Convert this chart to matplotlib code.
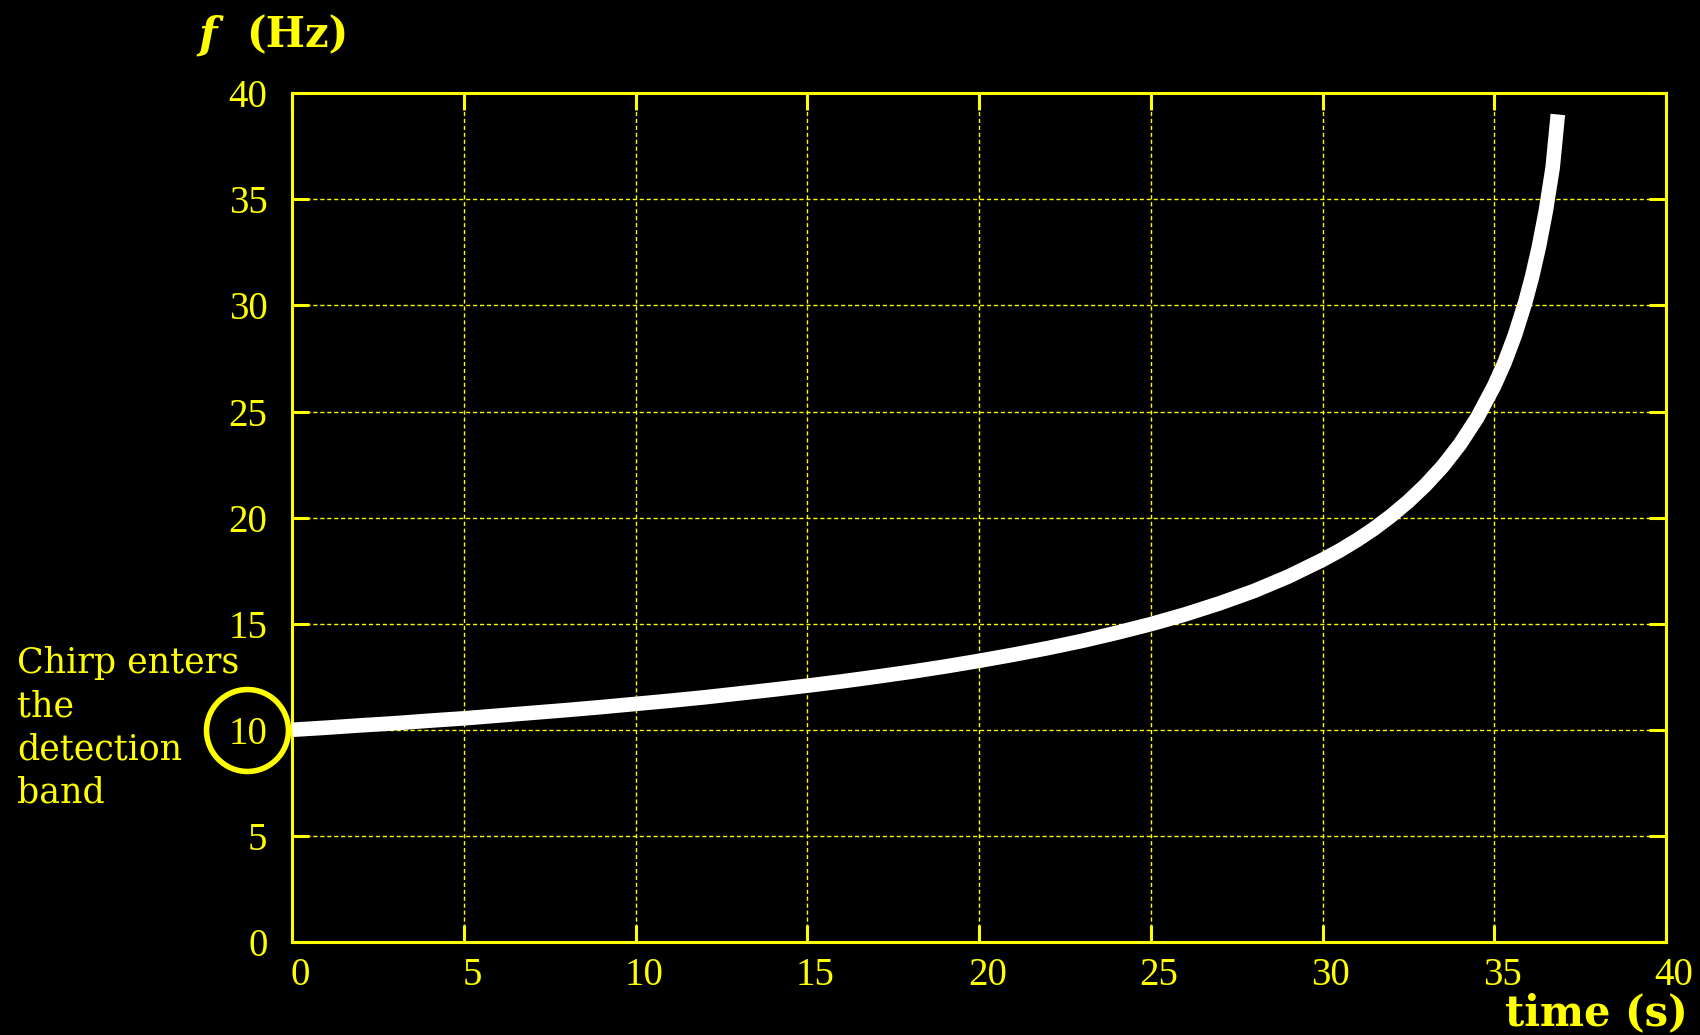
import matplotlib.pyplot as plt
import matplotlib.transforms as mtransforms

# Datos (tiempo en s, frecuencia en Hz)
tiempo = [0, 1, 2, 3, 4, 5, 6, 7, 8, 9, 10, 11, 12, 13, 14, 15, 16, 17, 18,
          19, 20, 21, 22, 23, 24, 25, 26, 27, 28, 29, 30, 30.5, 31, 31.5, 32,
          32.5, 33, 33.5, 34, 34.5, 35, 35.3, 35.6, 35.9, 36.1, 36.3, 36.5,
          36.7, 36.85]
frecuencia = [10.00, 10.10, 10.21, 10.31, 10.43, 10.54, 10.67, 10.80, 10.93,
              11.07, 11.22, 11.37, 11.53, 11.71, 11.89, 12.08, 12.28, 12.50,
              12.73, 12.98, 13.25, 13.54, 13.85, 14.19, 14.57, 14.98, 15.44,
              15.96, 16.54, 17.22, 18.01, 18.45, 18.94, 19.48, 20.09, 20.77,
              21.54, 22.42, 23.46, 24.70, 26.22, 27.31, 28.60, 30.14, 31.35,
              32.77, 34.45, 36.50, 39.0]

xticks = [0, 5, 10, 15, 20, 25, 30, 35, 40]
yticks = [0, 5, 10, 15, 20, 25, 30, 35, 40]
lineas_nota = ['Chirp enters', 'the', 'detection', 'band']

amarillo = '#ffff00'

fig = plt.figure(figsize=(17, 10.35), dpi=100, facecolor='black')
ax = fig.add_axes([0.172, 0.0899, 0.808, 0.820], facecolor='black')

ax.plot(tiempo, frecuencia, color='white', lw=10.5, solid_capstyle='butt',
        solid_joinstyle='round', zorder=3)

ax.set_xlim(0, 40)
ax.set_ylim(0, 40)
ax.set_xticks(xticks)
ax.set_yticks(yticks)
ax.grid(True, color=amarillo, linestyle=(0, (3, 2)), lw=1.0)

for s in ax.spines.values():
    s.set_color(amarillo)
    s.set_linewidth(2.2)

ax.tick_params(axis='both', which='both', direction='in', length=12, width=2.2,
               color=amarillo, labelcolor=amarillo, top=True, right=True,
               labelsize=28)
ax.tick_params(axis='x', pad=11)
ax.tick_params(axis='y', pad=18)
desplaza = mtransforms.ScaledTranslation(0.08, 0, fig.dpi_scale_trans)
for lab in ax.get_xticklabels():
    lab.set_fontfamily('Liberation Serif')
    lab.set_transform(lab.get_transform() + desplaza)
for lab in ax.get_yticklabels():
    lab.set_fontfamily('Liberation Serif')

# Etiquetas de los ejes
fig.text(0.1165, 0.966, 'f', color=amarillo, fontsize=31, fontweight='bold',
         fontstyle='italic', family='DejaVu Serif', ha='left', va='center')
fig.text(0.1445, 0.966, '(Hz)', color=amarillo, fontsize=30, fontweight='bold',
         family='DejaVu Serif', ha='left', va='center')
fig.text(0.993, 0.0097, 'time (s)', color=amarillo, fontsize=30, fontweight='bold',
         family='DejaVu Serif', ha='right', va='baseline')

# Anotación (una línea por texto) y círculo alrededor del 10
for i, linea in enumerate(lineas_nota):
    fig.text(0.010, 0.3498 - i * 0.0416, linea, color=amarillo, fontsize=25,
             family='DejaVu Serif', ha='left', va='baseline')
trans = mtransforms.blended_transform_factory(ax.transAxes, ax.transData)
ax.plot([-0.033], [10], marker='o', markersize=59, markerfacecolor='none',
        markeredgecolor=amarillo, markeredgewidth=4.0, transform=trans,
        clip_on=False, zorder=5)

plt.savefig('out.png', dpi=100, facecolor='black')
